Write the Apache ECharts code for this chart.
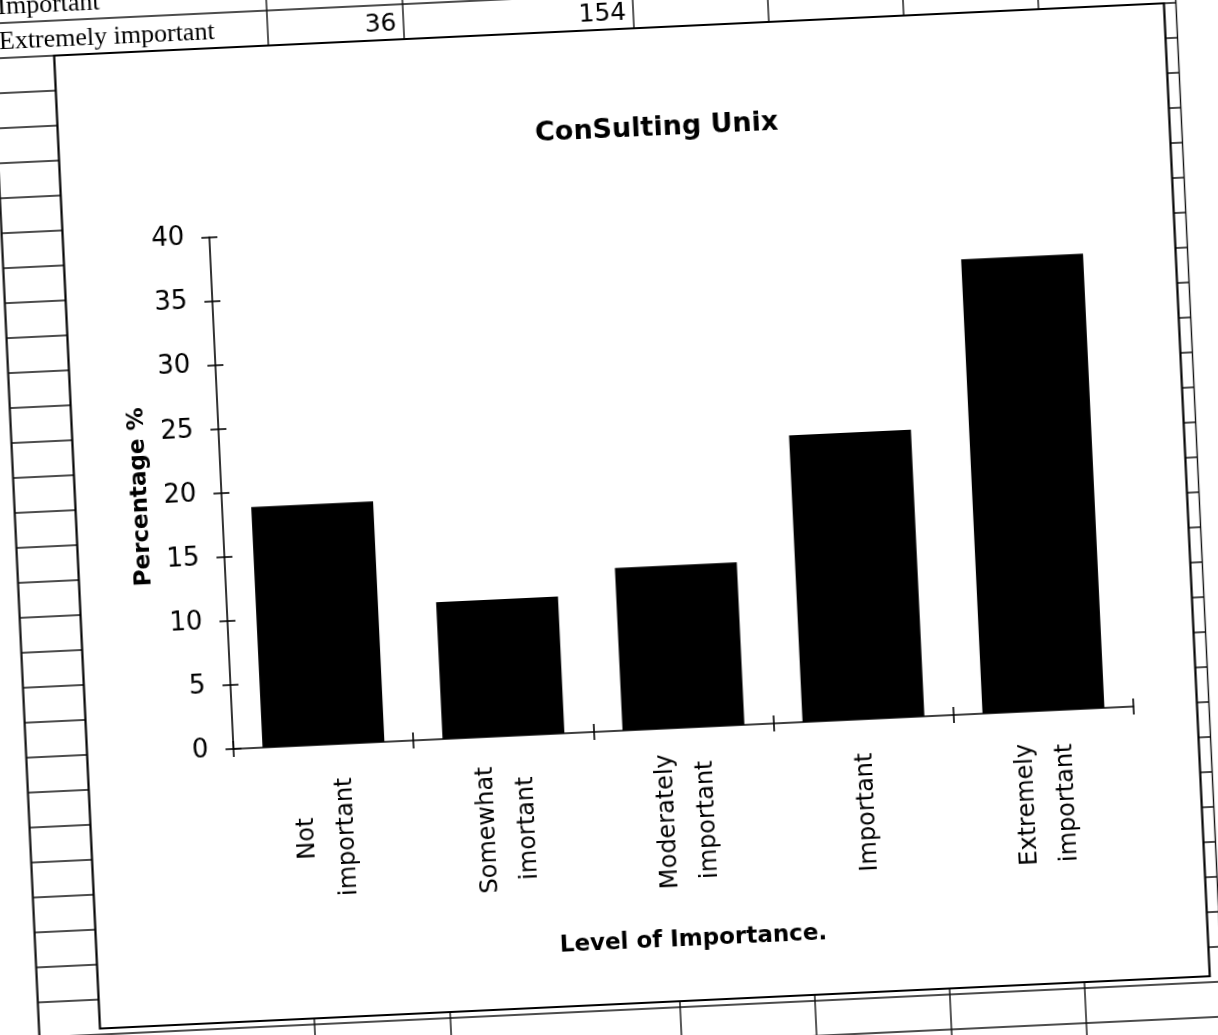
<!DOCTYPE html>
<html><head><meta charset="utf-8">
<script src="https://cdn.jsdelivr.net/npm/echarts@6/dist/echarts.min.js"></script>
<style>
html,body{margin:0;padding:0;background:#fff;overflow:hidden;width:1218px;height:1035px;}
#chart{position:absolute;left:-80px;top:-80px;width:1378px;height:1195px;transform:rotate(-2.7deg);transform-origin:50% 50%;}
</style></head><body><div id="chart"></div>
<script>
// ---- data ----
const chartTitle = 'ConSulting Unix';
const categories = ['Not\nimportant', 'Somewhat\nimortant', 'Moderately\nimportant', 'Important', 'Extremely\nimportant'];
const percentages = [18.8, 10.7, 12.7, 22.4, 35.5];
const yMin = 0, yMax = 40, yStep = 5;
const xAxisTitle = 'Level of Importance.';
const yAxisTitle = 'Percentage %';
// spreadsheet fragment visible above the chart
const sheetRowLabels = ['Important', 'Extremely important'];
const sheetColB = ['', '36'];
const sheetColC = ['', '154'];

// ---- layout (unrotated page coordinates, shifted by P inside the canvas) ----
const P = 80;
const ROW_H = 35, ROW0 = 30;
const colLines = [15.6, 291, 427, 657, 792, 927, 1062, 1199.5];
const frame = {x: 76.5, y: 30, w: 1111, h: 974};
const FONT = '"DejaVu Sans", sans-serif';

const graphics = [];
for (let k = -4; k <= 31; k++) {
  const yy = ROW0 + ROW_H * k;
  const xEnd = yy > frame.y + frame.h ? 1500 : 1199.5 + P;
  graphics.push({type: 'line', z: -10, silent: true,
    shape: {x1: colLines[0] + P, y1: yy + P, x2: xEnd, y2: yy + P},
    style: {stroke: '#111', lineWidth: 1.4}});
}
colLines.forEach(function (x) {
  graphics.push({type: 'line', z: -10, silent: true,
    shape: {x1: x + P, y1: -100, x2: x + P, y2: 1300},
    style: {stroke: '#111', lineWidth: x === colLines[0] ? 2.2 : 1.4}});
});
graphics.push({type: 'rect', z: -5, silent: true,
  shape: {x: frame.x + P, y: frame.y + P, width: frame.w, height: frame.h},
  style: {fill: '#fff', stroke: '#000', lineWidth: 2.2}});
const rowMid = [-21, 14];
sheetRowLabels.forEach(function (t, i) {
  graphics.push({type: 'text', z: 1, x: 22 + P, y: rowMid[i] + P,
    style: {text: t, font: '26px "Liberation Serif", serif', fill: '#000', align: 'left', verticalAlign: 'middle'}});
  if (sheetColB[i]) graphics.push({type: 'text', z: 1, x: 420 + P, y: rowMid[i] + P,
    style: {text: sheetColB[i], font: '25px ' + FONT, fill: '#000', align: 'right', verticalAlign: 'middle'}});
  if (sheetColC[i]) graphics.push({type: 'text', z: 1, x: 650 + P, y: rowMid[i] + P,
    style: {text: sheetColC[i], font: '25px ' + FONT, fill: '#000', align: 'right', verticalAlign: 'middle'}});
});

const chart = echarts.init(document.getElementById('chart'), null, {renderer: 'canvas'});
const axisLineStyle = {color: '#000', width: 1.6};
chart.setOption({
  animation: false,
  backgroundColor: 'transparent',
  textStyle: {fontFamily: FONT, color: '#000'},
  title: {
    text: chartTitle, left: 675 + P, top: 117 + P, textAlign: 'center', padding: 0,
    textStyle: {fontFamily: FONT, fontSize: 27, fontWeight: 'bold', color: '#000'}
  },
  graphic: {elements: graphics},
  grid: {left: 223 + P, right: 1378 - (1124 + P), top: 218.6 + P, bottom: 1195 - (731 + P), containLabel: false},
  xAxis: [{
    type: 'category', data: categories, position: 'bottom',
    axisLine: {lineStyle: axisLineStyle},
    axisTick: {show: true, inside: false, length: 8, lineStyle: axisLineStyle},
    axisLabel: {interval: 0, rotate: 90, align: 'center', verticalAlign: 'middle', margin: 93,
      fontSize: 24, lineHeight: 40, color: '#000', fontFamily: FONT},
    name: xAxisTitle, nameLocation: 'middle', nameGap: 201,
    nameTextStyle: {fontSize: 23, fontWeight: 'bold', color: '#000', fontFamily: FONT}
  }, {
    type: 'category', data: categories, position: 'bottom',
    axisLine: {show: false},
    axisTick: {show: true, inside: true, length: 8, lineStyle: axisLineStyle},
    axisLabel: {show: false}
  }],
  yAxis: [{
    type: 'value', min: yMin, max: yMax, interval: yStep, position: 'left',
    axisLine: {show: true, lineStyle: axisLineStyle},
    axisTick: {show: true, inside: false, length: 8, lineStyle: axisLineStyle},
    axisLabel: {margin: 25, fontSize: 26, color: '#000', fontFamily: FONT},
    splitLine: {show: false},
    name: yAxisTitle, nameLocation: 'middle', nameRotate: 90, nameGap: 67,
    nameTextStyle: {fontSize: 23, fontWeight: 'bold', color: '#000', fontFamily: FONT}
  }, {
    type: 'value', min: yMin, max: yMax, interval: yStep, position: 'left',
    axisLine: {show: false},
    axisTick: {show: true, inside: true, length: 8, lineStyle: axisLineStyle},
    axisLabel: {show: false},
    splitLine: {show: false}
  }],
  series: [{
    type: 'bar', data: percentages, xAxisIndex: 0, yAxisIndex: 0,
    barWidth: 122, itemStyle: {color: '#000'}
  }]
});
</script></body></html>
